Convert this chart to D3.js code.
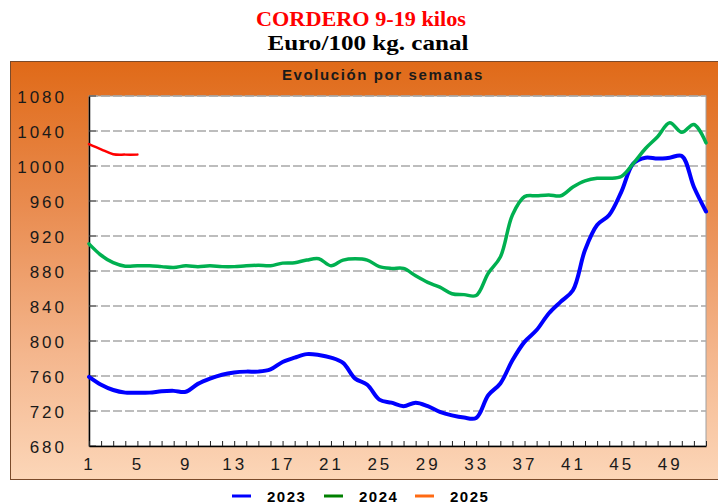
<!DOCTYPE html>
<html>
<head>
<meta charset="utf-8">
<script src="https://cdn.jsdelivr.net/npm/d3@7"></script>
<style>
  html, body { margin: 0; padding: 0; background: #fff; }
  svg { display: block; }
</style>
</head>
<body>
<svg id="chart" width="718" height="504"></svg>
<script>
// Weekly lamb carcass prices, 9-19 kg (Euro / 100 kg)
const weeks = d3.range(1, 53);
const prices2023 = [759, 750, 744, 741, 741, 741, 742.5, 743, 742, 751, 757, 761.5, 764, 765, 765, 767.5, 776, 781, 785, 784,
  781, 775, 757, 750, 733, 729.5, 725.5, 729.5, 725.5, 719, 715, 712.5, 712, 738, 751.5, 778, 799, 812.5, 831.5, 845,
  858, 904, 932.5, 944, 970.5, 1003, 1009.5, 1008.5, 1009.5, 1011.5, 976, 948];
const prices2024 = [911, 898, 889.5, 885.5, 886, 886, 885, 884, 886, 885, 886, 885, 885, 886, 886.5, 886, 889, 889.5, 892.5, 894,
  886, 892.5, 894, 892.5, 885, 883, 883, 874.5, 867, 861.5, 854, 853, 852, 877.5, 896, 944, 965, 966, 967, 966,
  976, 983, 986, 986, 988, 1003, 1020, 1033.5, 1049.5, 1038.5, 1047.5, 1026.5];
const prices2025 = [1025, 1019, 1013.5, 1013, 1013];

const yTicks = [680, 720, 760, 800, 840, 880, 920, 960, 1000, 1040, 1080];
const xTickLabels = [1, 5, 9, 13, 17, 21, 25, 29, 33, 37, 41, 45, 49];
const seriesNames = ["2023", "2024", "2025"];

const svg = d3.select("#chart");

// Titles (condensed bold serif)
svg.append("text").attr("x", 361).attr("y", 26).attr("text-anchor", "middle")
  .attr("font-family", "'Liberation Serif', 'DejaVu Serif', serif").attr("font-weight", "bold")
  .attr("font-size", 21.5).attr("textLength", 210).attr("lengthAdjust", "spacingAndGlyphs")
  .attr("fill", "#ff0000").text("CORDERO 9-19 kilos");
svg.append("text").attr("x", 368).attr("y", 50).attr("text-anchor", "middle")
  .attr("font-family", "'Liberation Serif', 'DejaVu Serif', serif").attr("font-weight", "bold")
  .attr("font-size", 21.5).attr("textLength", 201).attr("lengthAdjust", "spacingAndGlyphs")
  .attr("fill", "#000").text("Euro/100 kg. canal");

// Orange gradient panel behind the plot
const defs = svg.append("defs");
const grad = defs.append("linearGradient").attr("id", "panelGrad")
  .attr("x1", 0).attr("y1", 0).attr("x2", 0).attr("y2", 1);
grad.append("stop").attr("offset", "0%").attr("stop-color", "#e06a18");
grad.append("stop").attr("offset", "35%").attr("stop-color", "#e98c50");
grad.append("stop").attr("offset", "70%").attr("stop-color", "#f4b68d");
grad.append("stop").attr("offset", "100%").attr("stop-color", "#fcd6b8");

svg.append("rect").attr("x", 10.5).attr("y", 61.5).attr("width", 720).attr("height", 418)
  .attr("fill", "url(#panelGrad)").attr("stroke", "#7a4a2a").attr("stroke-width", 1);

svg.append("text").attr("x", 383).attr("y", 80).attr("text-anchor", "middle")
  .attr("font-family", "'Liberation Sans', Arial, sans-serif").attr("font-weight", "bold")
  .attr("font-size", 15).attr("letter-spacing", 1.6).attr("fill", "#1a1a1a")
  .text("Evolución por semanas");

// Scales
const x = d3.scaleLinear().domain([1, 52]).range([89, 706]);
const y = d3.scaleLinear().domain([680, 1080]).range([446, 96]);

// Plot area
svg.append("rect").attr("x", 89).attr("y", 96).attr("width", 617).attr("height", 350)
  .attr("fill", "#fff").attr("stroke", "#a0a0a0").attr("stroke-width", 1);

// Horizontal dashed grid
svg.append("g").selectAll("line").data(yTicks.filter(v => v > 680)).join("line")
  .attr("x1", 89).attr("x2", 706)
  .attr("y1", d => y(d)).attr("y2", d => y(d))
  .attr("stroke", "#a8a8a8").attr("stroke-width", 1.5).attr("stroke-dasharray", "9,3");

// Y axis
const yAxis = d3.axisLeft(y).tickValues(yTicks).tickSize(0).tickPadding(22).tickFormat(d3.format("d"));
const gy = svg.append("g").attr("transform", "translate(89,0)").call(yAxis);
gy.select(".domain").attr("stroke", "#000").attr("stroke-width", 1.5);
gy.selectAll("text").attr("font-family", "'Liberation Sans', Arial, sans-serif")
  .attr("font-size", 17).attr("letter-spacing", 3).attr("fill", "#1a1a1a")
  .attr("dy", "0.36em");
// short inner ticks on the value axis
svg.append("g").selectAll("line").data(yTicks).join("line")
  .attr("x1", 89).attr("x2", 96).attr("y1", d => y(d)).attr("y2", d => y(d))
  .attr("stroke", "#444").attr("stroke-width", 1);

// X axis: a tick every week pointing up, labels every four weeks
const xAxis = d3.axisBottom(x).tickValues(weeks).tickSizeInner(-5).tickSizeOuter(0)
  .tickPadding(12).tickFormat(d => xTickLabels.includes(d) ? d : "");
const gx = svg.append("g").attr("transform", "translate(0,446)").call(xAxis);
gx.select(".domain").attr("stroke", "#000").attr("stroke-width", 1.5);
gx.selectAll(".tick line").attr("stroke", "#222");
gx.selectAll("text").attr("font-family", "'Liberation Sans', Arial, sans-serif")
  .attr("font-size", 17).attr("letter-spacing", 3).attr("fill", "#1a1a1a").attr("dy", "0.72em");

// Series lines
const line = d3.line().x((d, i) => x(weeks[i])).y(d => y(d)).curve(d3.curveCatmullRom.alpha(0.5));
const series = [
  { values: prices2023, color: "#0000ff", width: 4 },
  { values: prices2024, color: "#00b050", width: 3.5 },
  { values: prices2025, color: "#ff0000", width: 2.5 }
];
svg.append("g").selectAll("path").data(series).join("path")
  .attr("d", d => line(d.values)).attr("fill", "none")
  .attr("stroke", d => d.color).attr("stroke-width", d => d.width)
  .attr("stroke-linejoin", "round").attr("stroke-linecap", "round");

// Legend
const legendColors = ["#0000ff", "#008000", "#ff6a13"];
const legendX = [232, 324, 415];
const lg = svg.append("g").selectAll("g").data(seriesNames).join("g")
  .attr("transform", (d, i) => `translate(${legendX[i]},496)`);
lg.append("line").attr("x1", 0).attr("x2", 19).attr("y1", 0).attr("y2", 0)
  .attr("stroke", (d, i) => legendColors[i]).attr("stroke-width", 3);
lg.append("text").attr("x", 35).attr("y", 5.5)
  .attr("font-family", "'Liberation Sans', Arial, sans-serif").attr("font-weight", "bold")
  .attr("font-size", 15).attr("letter-spacing", 1.5).attr("fill", "#000").text(d => d);
</script>
</body>
</html>
